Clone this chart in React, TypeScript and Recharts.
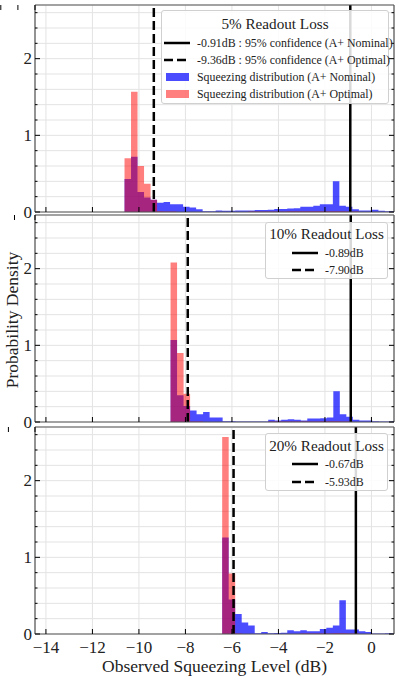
import { Area, CartesianGrid, ComposedChart, ReferenceLine, XAxis, YAxis } from "recharts";

const FONT = '"Liberation Serif", "DejaVu Serif", serif';
const FRAME = "#555";
const BIN_WIDTH = 0.28;

const xTicks = [-14, -12, -10, -8, -6, -4, -2, 0];
const yTicks = [0, 0.2, 0.4, 0.6, 0.8, 1, 1.2, 1.4, 1.6, 1.8, 2, 2.2, 2.4, 2.6];

// 5% readout loss
const start5 = -10.62;
const nominal5 = [
  0.43, 0.72, 0.26, 0.19, 0.16, 0.12, 0.13, 0.1, 0.1, 0.07, 0.06, 0.035, 0.01, 0.01,
  0.02, 0.015, 0.015, 0.02, 0.02, 0.02, 0.025, 0.025, 0.03, 0.04, 0.04, 0.045, 0.05,
  0.07, 0.07, 0.08, 0.1, 0.1, 0.4, 0.08, 0.07, 0.035, 0.02, 0.02, 0.03, 0.015, 0.01, 0.01,
];
const optimal5 = [
  0.7, 1.57, 0.6, 0.37, 0.16, 0.01, 0.005, 0.005, 0, 0, 0, 0, 0, 0, 0, 0, 0, 0, 0,
  0.005, 0.005, 0.005, 0.005, 0.005, 0.005, 0.01, 0.01, 0.01, 0.01, 0.01, 0.01, 0.01,
  0.01, 0.01, 0.005, 0.005, 0, 0, 0, 0, 0, 0,
];
const nominalLine5 = -0.91;
const optimalLine5 = -9.36;

// 10% readout loss
const start10 = -8.64;
const nominal10 = [
  1.07, 0.35, 0.21, 0.15, 0.1, 0.13, 0.06, 0.06, 0.01, 0.01, 0.005, 0.005, 0.005, 0.005,
  0.005, 0.03, 0.02, 0.03, 0.035, 0.03, 0.02, 0.045, 0.045, 0.05, 0.06, 0.4, 0.1, 0.07,
  0.03, 0.02, 0.02, 0.01, 0.005, 0.005, 0.01,
];
const optimal10 = [
  2.08, 0.9, 0.37, 0.005, 0.005, 0, 0, 0, 0, 0, 0, 0, 0, 0, 0, 0.005, 0.005, 0.005,
  0.005, 0.005, 0.005, 0.005, 0.005, 0.01, 0.01, 0.01, 0.005, 0.005, 0, 0, 0, 0, 0, 0, 0,
];
const nominalLine10 = -0.89;
const optimalLine10 = -7.9;

// 20% readout loss
const start20 = -6.42;
const nominal20 = [
  1.26, 0.45, 0.26, 0.15, 0.11, 0.01, 0.025, 0.01, 0.013, 0.017, 0.05, 0.035, 0.048,
  0.035, 0.035, 0.065, 0.08, 0.11, 0.44, 0.06, 0.06, 0.035, 0.026, 0.005, 0.005, 0.01, 0.005,
];
const optimal20 = [
  2.57, 0.79, 0.005, 0, 0, 0, 0, 0, 0, 0, 0, 0, 0.005, 0.005, 0.005, 0.005, 0.005, 0.01,
  0.01, 0.005, 0.005, 0, 0, 0, 0, 0, 0,
];
const nominalLine20 = -0.67;
const optimalLine20 = -5.93;

const PLOT_H = 207;
const PLOT_L = 35;
const PLOT_R = 394;

function histRows(start: number, nominal: number[], optimal: number[]) {
  const rows = nominal.map((v, i) => ({
    x: start + i * BIN_WIDTH,
    nominal: v,
    optimal: optimal[i] ?? 0,
  }));
  rows.push({ x: start + nominal.length * BIN_WIDTH, nominal: 0, optimal: 0 });
  return rows;
}

const fmt = (v: number) => (v < 0 ? "\u2212" + Math.abs(v) : String(v));

type PanelProps = {
  top: number;
  padTop: number;
  padBottom: number;
  rows: { x: number; nominal: number; optimal: number }[];
  nominalLine: number;
  optimalLine: number;
  labels: boolean;
};

function Panel({ top, padTop, padBottom, rows, nominalLine, optimalLine, labels }: PanelProps) {
  const plotTop = padTop;
  const plotBottom = padTop + PLOT_H;
  const h = padTop + PLOT_H + padBottom;

  const bottomTick = (p: any) => (
    <g>
      <line x1={p.x} x2={p.x} y1={plotBottom} y2={plotBottom - 5} stroke="#000" />
      {labels && (
        <text
          x={p.x}
          y={plotBottom + 13}
          textAnchor="middle"
          dominantBaseline="central"
          fontFamily={FONT}
          fontSize={17}
          fill="#222"
        >
          {fmt(p.payload.value)}
        </text>
      )}
    </g>
  );
  const topTick = (p: any) => (
    <line x1={p.x} x2={p.x} y1={plotTop} y2={plotTop + 5} stroke="#000" />
  );
  const leftTick = (p: any) => {
    const major = Number.isInteger(p.payload.value);
    return (
      <g>
        <line x1={PLOT_L} x2={PLOT_L + (major ? 5 : 2.5)} y1={p.y} y2={p.y} stroke="#000" />
        {major && (
          <text
            x={PLOT_L - 3}
            y={p.y}
            textAnchor="end"
            dominantBaseline="central"
            fontFamily={FONT}
            fontSize={17}
            fill="#222"
          >
            {p.payload.value}
          </text>
        )}
      </g>
    );
  };
  const rightTick = (p: any) => {
    const major = Number.isInteger(p.payload.value);
    return <line x1={PLOT_R} x2={PLOT_R - (major ? 5 : 2.5)} y1={p.y} y2={p.y} stroke="#000" />;
  };

  return (
    <div style={{ position: "absolute", left: 0, top, width: 399, height: h, overflow: "hidden" }}>
      <ComposedChart
        width={399}
        height={h}
        data={rows}
        margin={{ top: 0, right: 0, bottom: 0, left: 0 }}
        accessibilityLayer={false}
      >
        <CartesianGrid stroke="#e3e3e3" strokeWidth={1} />
        <XAxis
          dataKey="x"
          type="number"
          domain={[-14.47, 0.97]}
          allowDataOverflow
          ticks={xTicks}
          interval={0}
          height={padBottom}
          axisLine={{ stroke: FRAME, strokeWidth: 1.2 }}
          tickLine={false}
          tick={bottomTick}
        />
        <XAxis
          xAxisId="top"
          orientation="top"
          type="number"
          domain={[-14.47, 0.97]}
          allowDataOverflow
          ticks={xTicks}
          interval={0}
          height={padTop}
          axisLine={{ stroke: FRAME, strokeWidth: 1.2 }}
          tickLine={false}
          tick={topTick}
        />
        <YAxis
          type="number"
          domain={[0, 2.7]}
          allowDataOverflow
          ticks={yTicks}
          interval={0}
          width={PLOT_L}
          axisLine={{ stroke: FRAME, strokeWidth: 1.2 }}
          tickLine={false}
          tick={leftTick}
        />
        <YAxis
          yAxisId="right"
          orientation="right"
          type="number"
          domain={[0, 2.7]}
          allowDataOverflow
          ticks={yTicks}
          interval={0}
          width={399 - PLOT_R}
          axisLine={{ stroke: FRAME, strokeWidth: 1.2 }}
          tickLine={false}
          tick={rightTick}
        />
        <Area
          type="stepAfter"
          dataKey="nominal"
          stroke="none"
          fill="#0000ff"
          fillOpacity={0.7}
          dot={false}
          activeDot={false}
          isAnimationActive={false}
        />
        <Area
          type="stepAfter"
          dataKey="optimal"
          stroke="none"
          fill="#ff0000"
          fillOpacity={0.5}
          dot={false}
          activeDot={false}
          isAnimationActive={false}
        />
        <ReferenceLine x={nominalLine} stroke="#000" strokeWidth={2.5} />
        <ReferenceLine x={optimalLine} stroke="#000" strokeWidth={2.5} strokeDasharray="9 4" />
      </ComposedChart>
    </div>
  );
}

type Entry = { kind: "solid" | "dashed" | "blue" | "red"; label: string; y: number };

function LegendBox({
  left,
  top,
  width,
  height,
  title,
  titleY,
  handleX,
  textX,
  entries,
}: {
  left: number;
  top: number;
  width: number;
  height: number;
  title: string;
  titleY: number;
  handleX: number;
  textX: number;
  entries: Entry[];
}) {
  return (
    <div
      style={{
        position: "absolute",
        left,
        top,
        width,
        height,
        boxSizing: "border-box",
        background: "rgba(255,255,255,0.85)",
        border: "1px solid #d0d0d0",
        borderRadius: 3,
        fontFamily: FONT,
        color: "#222",
      }}
    >
      <div
        style={{
          position: "absolute",
          left: 0,
          width: width - 2,
          top: titleY - top - 10,
          height: 20,
          lineHeight: "20px",
          textAlign: "center",
          fontSize: 15.2,
          whiteSpace: "nowrap",
        }}
      >
        {title}
      </div>
      {entries.map((e) => (
        <div key={e.label}>
          {e.kind === "solid" || e.kind === "dashed" ? (
            <svg
              style={{ position: "absolute", left: handleX - left, top: e.y - top - 3 }}
              width={27}
              height={6}
            >
              <line
                x1={0}
                x2={26}
                y1={3}
                y2={3}
                stroke="#000"
                strokeWidth={2.5}
                strokeDasharray={e.kind === "dashed" ? "9 4" : undefined}
              />
            </svg>
          ) : (
            <div
              style={{
                position: "absolute",
                left: handleX - left + 2,
                top: e.y - top - 4,
                width: 23,
                height: 8,
                background: e.kind === "blue" ? "rgba(0,0,255,0.7)" : "rgba(255,0,0,0.5)",
              }}
            />
          )}
          <div
            style={{
              position: "absolute",
              left: textX - left,
              top: e.y - top - 8,
              height: 16,
              lineHeight: "16px",
              fontSize: 11.9,
              whiteSpace: "nowrap",
            }}
          >
            {e.label}
          </div>
        </div>
      ))}
    </div>
  );
}

export default function App() {
  return (
    <div
      style={{
        position: "absolute",
        left: 0,
        top: 0,
        width: 399,
        height: 680,
        background: "#fff",
        fontFamily: FONT,
        overflow: "hidden",
      }}
    >
      <Panel
        top={0}
        padTop={5}
        padBottom={10}
        rows={histRows(start5, nominal5, optimal5)}
        nominalLine={nominalLine5}
        optimalLine={optimalLine5}
        labels={false}
      />
      <Panel
        top={213}
        padTop={2}
        padBottom={10}
        rows={histRows(start10, nominal10, optimal10)}
        nominalLine={nominalLine10}
        optimalLine={optimalLine10}
        labels={false}
      />
      <Panel
        top={423}
        padTop={4}
        padBottom={46}
        rows={histRows(start20, nominal20, optimal20)}
        nominalLine={nominalLine20}
        optimalLine={optimalLine20}
        labels={true}
      />

      <LegendBox
        left={161}
        top={10}
        width={228}
        height={94}
        title="5% Readout Loss"
        titleY={22.7}
        handleX={163}
        textX={196}
        entries={[
          { kind: "solid", label: "-0.91dB : 95% confidence (A+ Nominal)", y: 41.7 },
          { kind: "dashed", label: "-9.36dB : 95% confidence (A+ Optimal)", y: 59 },
          { kind: "blue", label: "Squeezing distribution (A+ Nominal)", y: 76 },
          { kind: "red", label: "Squeezing distribution (A+ Optimal)", y: 93.3 },
        ]}
      />
      <LegendBox
        left={265}
        top={222}
        width={123}
        height={57}
        title="10% Readout Loss"
        titleY={233.3}
        handleX={291}
        textX={324}
        entries={[
          { kind: "solid", label: "-0.89dB", y: 252 },
          { kind: "dashed", label: "-7.90dB", y: 269 },
        ]}
      />
      <LegendBox
        left={265}
        top={433}
        width={123}
        height={58}
        title="20% Readout Loss"
        titleY={445}
        handleX={291}
        textX={324}
        entries={[
          { kind: "solid", label: "-0.67dB", y: 463.3 },
          { kind: "dashed", label: "-5.93dB", y: 481 },
        ]}
      />

      <svg style={{ position: "absolute", left: 0, top: 0 }} width={30} height={680}>
        <text
          x={0}
          y={0}
          transform="translate(12 320) rotate(-90)"
          textAnchor="middle"
          dominantBaseline="central"
          fontFamily={FONT}
          fontSize={17.5}
          fill="#222"
        >
          Probability Density
        </text>
      </svg>
      <svg style={{ position: "absolute", left: 0, top: 650 }} width={399} height={30}>
        <text
          x={214.5}
          y={16}
          textAnchor="middle"
          dominantBaseline="central"
          fontFamily={FONT}
          fontSize={17.5}
          fill="#222"
        >
          Observed Squeezing Level (dB)
        </text>
      </svg>
    </div>
  );
}
